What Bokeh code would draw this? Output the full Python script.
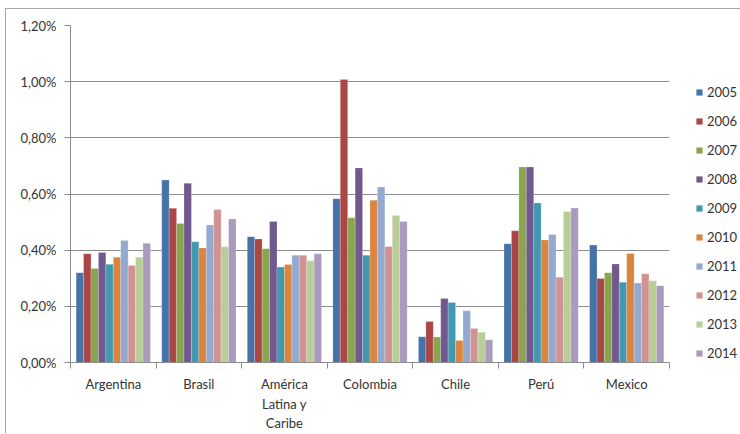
from bokeh.plotting import figure
from bokeh.models import Range1d, FixedTicker, CustomJSTickFormatter, Legend, LegendItem, LinearAxis
from bokeh.embed import file_html
from bokeh.resources import INLINE

countries = ["Argentina", "Brasil", "América", "Colombia", "Chile", "Perú", "Mexico"]
extra_lines = ["Latina y", "Caribe"]
years = ["2005", "2006", "2007", "2008", "2009", "2010", "2011", "2012", "2013", "2014"]

y2005 = [0.320, 0.650, 0.448, 0.583, 0.092, 0.423, 0.418]
y2006 = [0.387, 0.549, 0.440, 1.008, 0.146, 0.469, 0.299]
y2007 = [0.335, 0.495, 0.405, 0.515, 0.091, 0.696, 0.320]
y2008 = [0.392, 0.638, 0.502, 0.693, 0.228, 0.696, 0.351]
y2009 = [0.350, 0.430, 0.340, 0.382, 0.214, 0.568, 0.286]
y2010 = [0.375, 0.408, 0.349, 0.578, 0.078, 0.436, 0.388]
y2011 = [0.434, 0.490, 0.382, 0.625, 0.184, 0.456, 0.283]
y2012 = [0.345, 0.545, 0.382, 0.413, 0.121, 0.304, 0.316]
y2013 = [0.375, 0.412, 0.362, 0.523, 0.108, 0.538, 0.291]
y2014 = [0.425, 0.511, 0.387, 0.502, 0.081, 0.550, 0.273]
series = [y2005, y2006, y2007, y2008, y2009, y2010, y2011, y2012, y2013, y2014]

colors = ["#4572A7", "#AA4643", "#89A54E", "#71588F", "#4198AF",
          "#DB843D", "#93A9CF", "#D19392", "#B9CD96", "#A99BBD"]

y_ticks = [0.0, 0.2, 0.4, 0.6, 0.8, 1.0, 1.2]

FONT = "Lato"
TXT = "#333333"
GRID = "#8c8c8c"

p = figure(frame_width=599, frame_height=337, output_backend="svg", toolbar_location=None,
           x_range=Range1d(0, 7), y_range=Range1d(0, 1.2),
           min_border_left=64, min_border_top=16, min_border_bottom=20, min_border_right=10)
p.margin = (8, 0, 0, 5)
p.styles = {"border-left": "1px solid #a6a6a6", "border-top": "1px solid #a6a6a6"}
p.outline_line_color = None
p.background_fill_color = "white"
p.border_fill_color = "white"

n = len(series)
w = 0.0868
items = []
for j, vals in enumerate(series):
    xs = [i + 0.5 + (j - (n - 1) / 2) * w for i in range(len(countries))]
    r = p.vbar(x=xs, top=vals, width=w, bottom=0, fill_color=colors[j],
               line_color="white", line_alpha=0.35, line_width=0.6)
    items.append(LegendItem(label=years[j], renderers=[r]))

# axes
p.xgrid.visible = False
p.ygrid.grid_line_color = GRID
p.ygrid.grid_line_width = 1
p.ygrid.ticker = FixedTicker(ticks=y_ticks)

yax = p.yaxis[0]
yax.ticker = FixedTicker(ticks=y_ticks)
yax.formatter = CustomJSTickFormatter(code="return tick.toFixed(2).replace('.', ',') + '%';")
yax.axis_line_color = GRID
yax.major_tick_line_color = GRID
yax.major_tick_out = 6
yax.major_tick_in = 0
yax.minor_tick_line_color = None
yax.major_label_text_font = FONT
yax.major_label_text_font_size = "13px"
yax.major_label_text_color = TXT
yax.major_label_standoff = 8

xax = p.xaxis[0]
xax.ticker = FixedTicker(ticks=[i + 0.5 for i in range(len(countries))],
                         minor_ticks=list(range(len(countries) + 1)))
xax.major_label_overrides = {i + 0.5: c for i, c in enumerate(countries)}
xax.axis_line_color = GRID
xax.major_tick_line_color = None
xax.major_tick_out = 0
xax.minor_tick_line_color = GRID
xax.minor_tick_out = 6
xax.minor_tick_in = 0
xax.major_label_text_font = FONT
xax.major_label_text_font_size = "13px"
xax.major_label_text_color = TXT
xax.major_label_standoff = 7

# continuation lines of the "América Latina y Caribe" label
for k, t in enumerate(extra_lines):
    ax = LinearAxis(ticker=FixedTicker(ticks=[2.5], minor_ticks=[]))
    ax.major_label_overrides = {2.5: t}
    ax.axis_line_color = None
    ax.major_tick_line_color = None
    ax.minor_tick_line_color = None
    ax.major_tick_out = 0
    ax.minor_tick_out = 0
    ax.major_label_standoff = 1 - k
    ax.major_label_text_font = FONT
    ax.major_label_text_font_size = "13px"
    ax.major_label_text_color = TXT
    p.add_layout(ax, "below")

legend = Legend(items=items, location=(26, 0), orientation="vertical")
legend.glyph_width = 8
legend.glyph_height = 8
legend.label_height = 19
legend.spacing = 10
legend.padding = 0
legend.margin = 0
legend.label_standoff = 4
legend.label_text_font = FONT
legend.label_text_font_size = "13px"
legend.label_text_color = TXT
legend.border_line_color = None
legend.background_fill_alpha = 0
p.add_layout(legend, "right")

open("out.html", "w").write(file_html(p, INLINE))
